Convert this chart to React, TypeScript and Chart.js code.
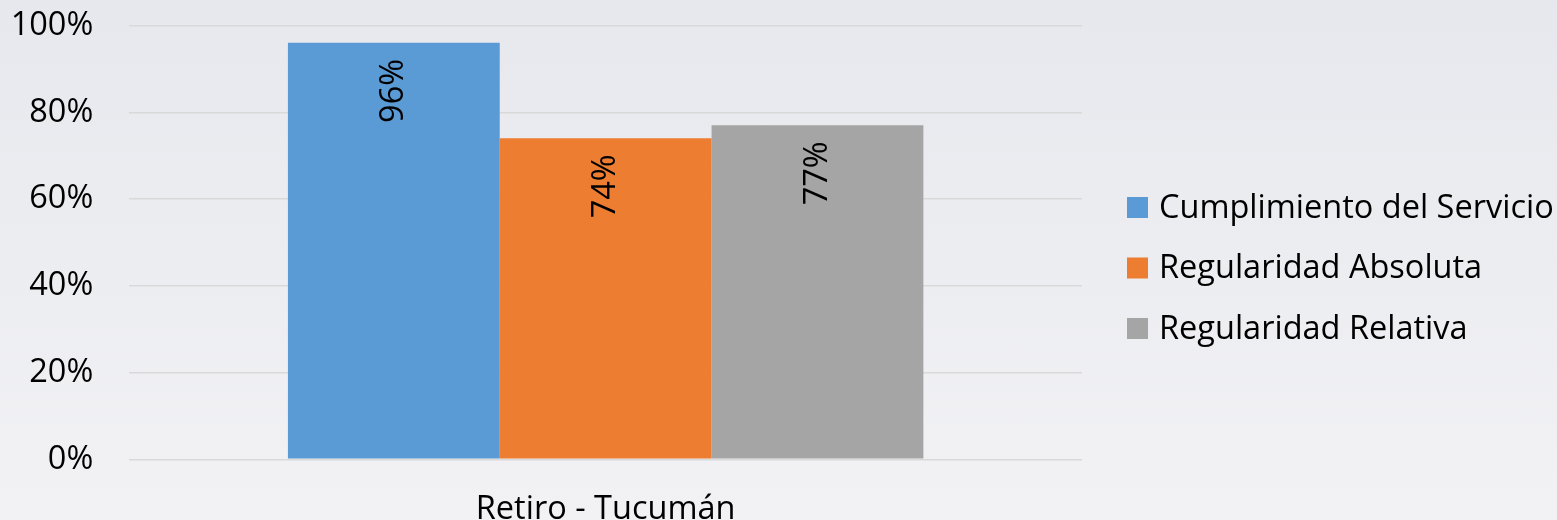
import React, { useEffect, useRef } from "react";
import { Chart, registerables } from "chart.js";

Chart.register(...registerables);

const categories = ["Retiro - Tucumán"];
const seriesNames = ["Cumplimiento del Servicio", "Regularidad Absoluta", "Regularidad Relativa"];
const cumplimiento = [96];
const regAbsoluta = [74];
const regRelativa = [77];
const yTicks = [0, 20, 40, 60, 80, 100];
const colors = ["#5B9BD5", "#ED7D31", "#A5A5A5"];

const FONT = "'Open Sans'";
const FS = 32.5;

const W = 1557;
const H = 520;

const rotatedLabels = {
  id: "rotatedLabels",
  afterDatasetsDraw(chart: any) {
    const ctx = chart.ctx;
    chart.data.datasets.forEach((ds: any, i: number) => {
      const meta = chart.getDatasetMeta(i);
      meta.data.forEach((bar: any, j: number) => {
        const v = ds.data[j];
        ctx.save();
        ctx.translate(bar.x, bar.y + 16);
        ctx.rotate(-Math.PI / 2);
        ctx.font = `${FS}px ${FONT}`;
        ctx.fillStyle = "#000";
        ctx.textAlign = "right";
        ctx.textBaseline = "middle";
        ctx.fillText(v + "%", 0, 0);
        ctx.restore();
      });
    });
  },
};

const sideLegend = {
  id: "sideLegend",
  afterDraw(chart: any) {
    const ctx = chart.ctx;
    const items = chart.data.datasets;
    const boxX = chart.chartArea.right + 45;
    const rowGap = 60.5;
    const midY = 268;
    const n = items.length;
    ctx.save();
    ctx.font = `${FS}px ${FONT}`;
    ctx.textAlign = "left";
    ctx.textBaseline = "middle";
    items.forEach((ds: any, i: number) => {
      const y = midY + (i - (n - 1) / 2) * rowGap;
      ctx.fillStyle = ds.backgroundColor;
      ctx.fillRect(boxX, y - 10.5, 21, 21);
      ctx.fillStyle = "#000";
      ctx.fillText(ds.label, boxX + 32, y + 1);
    });
    ctx.restore();
  },
};

export default function App() {
  const ref = useRef<HTMLCanvasElement>(null);
  useEffect(() => {
    if (!ref.current) return;
    const chart = new Chart(ref.current, {
      type: "bar",
      data: {
        labels: categories,
        datasets: [
          { label: seriesNames[0], data: cumplimiento, backgroundColor: colors[0] },
          { label: seriesNames[1], data: regAbsoluta, backgroundColor: colors[1] },
          { label: seriesNames[2], data: regRelativa, backgroundColor: colors[2] },
        ],
      },
      options: {
        responsive: false,
        animation: false,
        datasets: { bar: { categoryPercentage: 0.667, barPercentage: 1 } },
        layout: { padding: { top: 25.5, left: 0, right: W - 1082, bottom: 0 } },
        scales: {
          x: {
            grid: { display: false, drawTicks: false },
            border: { display: false },
            ticks: { font: { family: FONT, size: FS }, color: "#000", padding: 31, maxRotation: 0 },
            afterFit: (s: any) => {
              s.height = H - 459.3;
              s.paddingLeft = 0;
              s.paddingRight = 0;
            },
          },
          y: {
            min: 0,
            max: 100,
            afterBuildTicks: (scale: any) => {
              scale.ticks = yTicks.map((v) => ({ value: v }));
            },
            grid: { color: "#d9d9d9", lineWidth: 1.5, drawTicks: false },
            border: { display: false },
            ticks: {
              padding: 36,
              color: "#000",
              font: { family: FONT, size: FS },
              callback: (v: any) => v + "%",
            },
            afterFit: (s: any) => {
              s.width = 129.3;
              s.paddingTop = 0;
              s.paddingBottom = 0;
            },
          },
        },
        plugins: {
          legend: { display: false },
          tooltip: { enabled: false },
        },
      },
      plugins: [rotatedLabels, sideLegend],
    } as any);
    return () => chart.destroy();
  }, []);
  return (
    <div
      style={{
        position: "absolute",
        left: 0,
        top: 0,
        width: W,
        height: H,
        overflow: "hidden",
        background: "linear-gradient(to bottom, #e7e8ed, #f2f2f5)",
      }}
    >
      <canvas ref={ref} width={W} height={H} style={{ display: "block" }} />
    </div>
  );
}
